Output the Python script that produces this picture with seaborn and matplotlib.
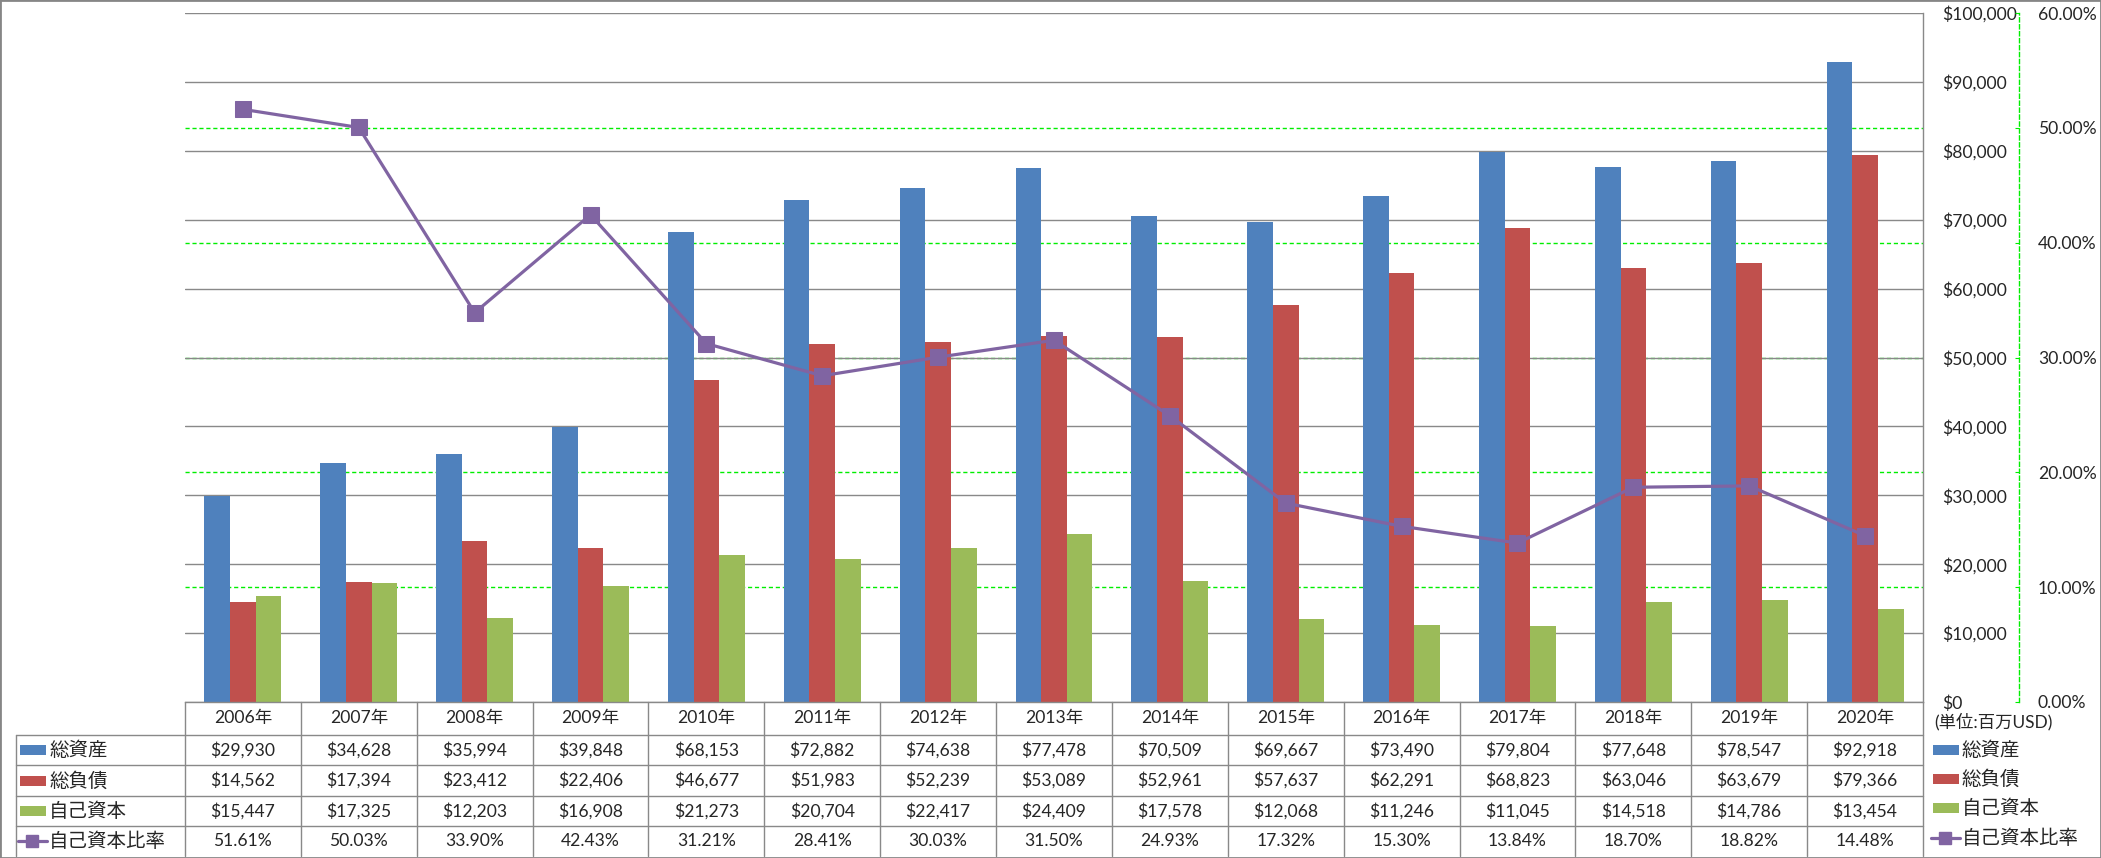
import numpy as np
import pandas as pd
import matplotlib
matplotlib.use('Agg')
import matplotlib.pyplot as plt
import matplotlib.transforms as mtrans
from matplotlib.lines import Line2D
from matplotlib.patches import Rectangle
from matplotlib.ticker import FuncFormatter, MultipleLocator
import seaborn as sns

# Data
years = ['2006年', '2007年', '2008年', '2009年', '2010年', '2011年', '2012年', '2013年',
         '2014年', '2015年', '2016年', '2017年', '2018年', '2019年', '2020年']
total_assets = [29930, 34628, 35994, 39848, 68153, 72882, 74638, 77478,
                70509, 69667, 73490, 79804, 77648, 78547, 92918]
total_liabilities = [14562, 17394, 23412, 22406, 46677, 51983, 52239, 53089,
                     52961, 57637, 62291, 68823, 63046, 63679, 79366]
equity = [15447, 17325, 12203, 16908, 21273, 20704, 22417, 24409,
          17578, 12068, 11246, 11045, 14518, 14786, 13454]
equity_ratio = [51.61, 50.03, 33.90, 42.43, 31.21, 28.41, 30.03, 31.50,
                24.93, 17.32, 15.30, 13.84, 18.70, 18.82, 14.48]

series_names = ['総資産', '総負債', '自己資本']
ratio_name = '自己資本比率'
colors = ['#4F81BD', '#C0504D', '#9BBB59']
purple = '#8064A2'
grid_gray = '#898989'
green = '#00EE00'
FS_NUM = 12.6
FS_JP = 14

df = pd.DataFrame({'year': years, '総資産': total_assets,
                   '総負債': total_liabilities, '自己資本': equity})
df_long = df.melt(id_vars='year', var_name='series', value_name='value')

sns.set_style('white')
plt.rcParams['font.family'] = ['Lato', 'Noto Sans CJK JP', 'DejaVu Sans']

W, H = 2101, 858
fig = plt.figure(figsize=(W / 100, H / 100), dpi=100)

# plot area in pixels
L, T, R, B = 185, 13, 1923, 702
ax = fig.add_axes([L / W, 1 - B / H, (R - L) / W, (B - T) / H])

sns.barplot(data=df_long, x='year', y='value', hue='series', hue_order=series_names,
            palette=colors, saturation=1, width=0.664, gap=0, linewidth=0,
            legend=False, ax=ax)
ax.set_xlim(-0.5, len(years) - 0.5)
ax.set_ylim(0, 100000)
ax.set_xlabel('')
ax.set_ylabel('')
ax.set_axisbelow(True)
ax.grid(axis='y', color=grid_gray, linewidth=1.0)
ax.grid(axis='x', visible=False)

# secondary axis (ratio)
ax2 = ax.twinx()
ax2.set_ylim(0, 0.6)
pct_ticks = np.arange(0, 0.61, 0.1)
ax2.set_yticks(pct_ticks)
ax2.yaxis.set_major_formatter(FuncFormatter(lambda v, p: f'{v * 100:.2f}%'))
ax2.tick_params(axis='y', direction='in', length=3, color=green, pad=13.5, labelsize=FS_NUM)
ax2.spines['right'].set_position(('outward', 69.1))
ax2.spines['right'].set_color(green)
ax2.spines['right'].set_linestyle((0, (3, 2)))
ax2.spines['right'].set_linewidth(1.0)
ax2.grid(False)

# primary axis labels on the right (after twinx, which resets them)
ax.yaxis.set_major_locator(MultipleLocator(10000))
ax.yaxis.set_major_formatter(FuncFormatter(lambda v, p: f'${v:,.0f}'))
ax.yaxis.tick_right()
ax.tick_params(axis='y', left=False, labelleft=False, right=False, labelright=True,
               length=0, pad=13.5, labelsize=FS_NUM)
ax.tick_params(axis='x', length=0, labelbottom=False)
for s in ['right', 'bottom']:
    ax.spines[s].set_color(grid_gray)
    ax.spines[s].set_linewidth(1.0)

# green dashed gridlines behind the gray ones
ax.hlines(pct_ticks[1:-1], 0, 1,
          transform=mtrans.blended_transform_factory(ax.transAxes, ax2.transData),
          colors=green, linestyles=(0, (3, 2)), linewidth=1.0, zorder=0.4)

ratio_df = pd.DataFrame({'pos': np.arange(len(years)), 'ratio': np.array(equity_ratio) / 100})
sns.lineplot(data=ratio_df, x='pos', y='ratio', color=purple, linewidth=2.3, marker='s',
             markersize=12, markeredgecolor=purple, markerfacecolor=purple, ax=ax2)
ax2.set_xlabel('')
ax2.set_ylabel('')
ax2.set_xlim(-0.5, len(years) - 0.5)

for s in ['left', 'top']:
    ax.spines[s].set_visible(False)
for s in ['left', 'top', 'bottom']:
    ax2.spines[s].set_visible(False)

# data table
def fy(py):
    return 1 - py / H

def fx(px):
    return px / W

tcol = mtrans.blended_transform_factory(ax.transData, fig.transFigure)
tfig = fig.transFigure
rows_y = [702, 735, 765, 796, 826, 856]
lkw = dict(color=grid_gray, linewidth=1.0)

for k in range(len(years) + 1):
    fig.add_artist(Line2D([k - 0.5, k - 0.5], [fy(702), fy(856)], transform=tcol, **lkw))
fig.add_artist(Line2D([fx(16), fx(16)], [fy(735), fy(856)], transform=tfig, **lkw))
for yy in rows_y[1:-1]:
    fig.add_artist(Line2D([fx(16), fx(R)], [fy(yy), fy(yy)], transform=tfig, **lkw))

cell_rows = [
    [f'${v:,}' for v in total_assets],
    [f'${v:,}' for v in total_liabilities],
    [f'${v:,}' for v in equity],
    [f'{v:.2f}%' for v in equity_ratio],
]
header_c = (rows_y[0] + rows_y[1]) / 2
for i, yl in enumerate(years):
    fig.text(i, fy(header_c), yl, transform=tcol, ha='center', va='center', fontsize=FS_NUM)
for r, vals in enumerate(cell_rows):
    cy = (rows_y[r + 1] + rows_y[r + 2]) / 2
    for i, t in enumerate(vals):
        fig.text(i, fy(cy), t, transform=tcol, ha='center', va='center', fontsize=FS_NUM)


def draw_key(x0, cy, r):
    # legend key: colour swatch for bars, line with square for the ratio
    if r < 3:
        fig.add_artist(Rectangle((fx(x0), fy(cy + 5)), fx(26), 10 / H, transform=tfig,
                                 facecolor=colors[r], edgecolor='none'))
    else:
        fig.add_artist(Line2D([fx(x0 - 2), fx(x0 + 27)], [fy(cy), fy(cy)], transform=tfig,
                              color=purple, linewidth=2.3))
        fig.add_artist(Line2D([fx(x0 + 12)], [fy(cy)], transform=tfig, color=purple,
                              marker='s', markersize=9, linestyle='none'))


# row labels with keys
row_labels = series_names + [ratio_name]
for r, lab in enumerate(row_labels):
    cy = (rows_y[r + 1] + rows_y[r + 2]) / 2
    draw_key(20, cy, r)
    fig.text(fx(49), fy(cy), lab, transform=tfig, ha='left', va='center', fontsize=FS_JP)

# right legend
fig.text(fx(1934), fy(722), '(単位:百万USD)', transform=tfig, ha='left', va='center', fontsize=12.5)
leg_y = [750, 779, 808, 838]
for r, lab in enumerate(row_labels):
    draw_key(1933, leg_y[r], r)
    fig.text(fx(1962), fy(leg_y[r]), lab, transform=tfig, ha='left', va='center', fontsize=FS_JP)

# figure frame
fig.add_artist(Rectangle((0, 0), 1, 1, transform=tfig, fill=False,
                         edgecolor='#868686', linewidth=2))

fig.savefig('out.png', dpi=100)
